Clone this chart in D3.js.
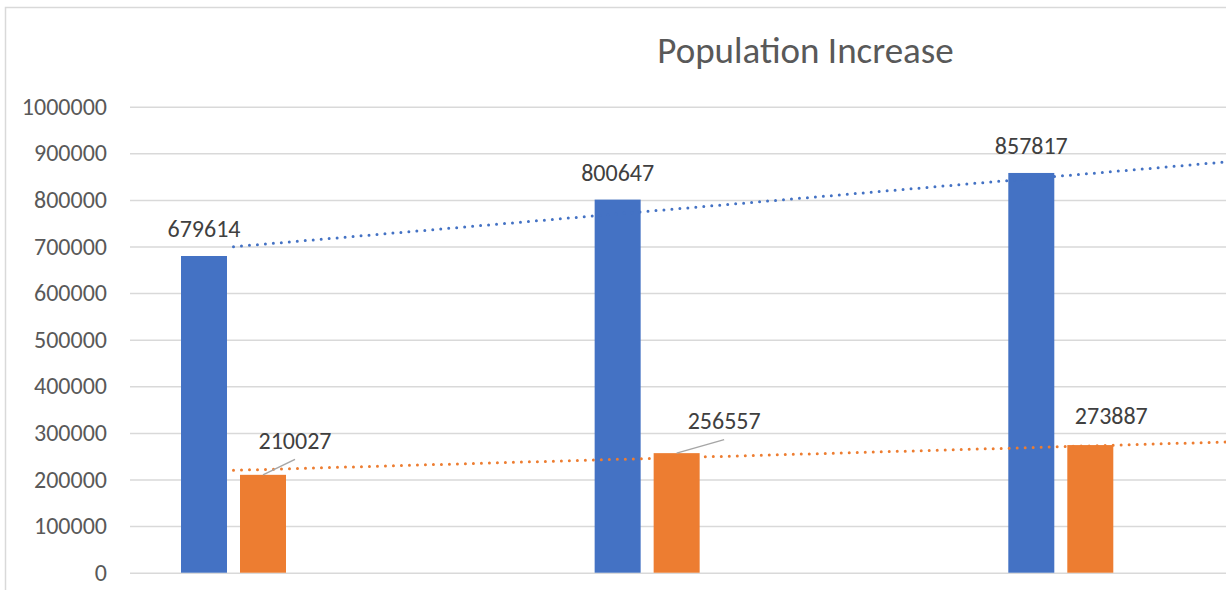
<!DOCTYPE html>
<html>
<head>
<meta charset="utf-8">
<script src="https://cdn.jsdelivr.net/npm/d3@7"></script>
<style>
  html, body { margin: 0; padding: 0; background: #fff; }
  svg { display: block; }
  text { font-family: "Carlito", "Calibri", "Open Sans", sans-serif; }
</style>
</head>
<body>
<svg id="chart" width="1226" height="590"></svg>
<script>
// ---- data ----
const categories = [1, 2, 3];
const seriesNames = ["Series A", "Series B"];
const blueValues = [679614, 800647, 857817];
const orangeValues = [210027, 256557, 273887];
const yTicks = [0, 100000, 200000, 300000, 400000, 500000, 600000, 700000, 800000, 900000, 1000000];
// trend lines: [category position, value]
const blueTrend = [[1, 699500], [3.45, 885400]];
const orangeTrend = [[1, 219700], [3.45, 281800]];
const title = "Population Increase";

// ---- layout ----
const W = 1226, H = 590;
const colors = { blue: "#4472C4", orange: "#ED7D31" };
const fontSize = 24;
const svg = d3.select("#chart");

// frame
svg.append("rect").attr("x", 5.5).attr("y", 7.5).attr("width", W + 20).attr("height", H + 20)
  .attr("fill", "none").attr("stroke", "#D9D9D9").attr("stroke-width", 1.5);

const y = d3.scaleLinear().domain([0, 1000000]).range([572.7, 106.7]);
const x = d3.scaleLinear().domain([1, 3]).range([233.5, 1060.8]);
const x1 = d3.scaleBand().domain(seriesNames).range([-52.5, 52.5]).paddingInner(0.2203);

// title
svg.append("text").attr("x", 805.5).attr("y", 62.5).attr("text-anchor", "middle")
  .attr("font-size", 37).attr("fill", "#595959").text(title);

// axis + gridlines
const axisG = svg.append("g").attr("transform", "translate(130,0)")
  .call(d3.axisLeft(y).tickValues(yTicks).tickFormat(d3.format("d"))
    .tickSize(-(W - 130 + 40)).tickPadding(23));
axisG.select(".domain").remove();
axisG.selectAll(".tick line").attr("stroke", "#D9D9D9").attr("stroke-width", 1.5);
axisG.selectAll(".tick text").attr("fill", "#595959").attr("font-size", fontSize)
  .attr("font-family", "Carlito, Calibri, 'Open Sans', sans-serif");

// bars
const series = [
  { name: seriesNames[0], values: blueValues, color: colors.blue },
  { name: seriesNames[1], values: orangeValues, color: colors.orange }
];
series.forEach(s => {
  svg.append("g").selectAll("rect").data(s.values).enter().append("rect")
    .attr("x", (d, i) => x(categories[i]) + x1(s.name))
    .attr("width", x1.bandwidth())
    .attr("y", d => y(d))
    .attr("height", d => y(0) - y(d))
    .attr("fill", s.color);
});

// trend lines (dotted)
const line = d3.line().x(d => x(d[0])).y(d => y(d[1]));
[[blueTrend, colors.blue], [orangeTrend, colors.orange]].forEach(([t, c]) => {
  svg.append("path").attr("d", line(t)).attr("fill", "none").attr("stroke", c)
    .attr("stroke-width", 3).attr("stroke-dasharray", "0 8").attr("stroke-linecap", "round");
});

// data labels
const labelColor = "#404040";
blueValues.forEach((v, i) => {
  const cx = x(categories[i]) + x1(seriesNames[0]) + x1.bandwidth() / 2;
  svg.append("text").attr("x", cx).attr("y", y(v) - 19).attr("text-anchor", "middle")
    .attr("font-size", fontSize).attr("fill", labelColor).text(d3.format("d")(v));
});
const orangeLabelOffsets = [[32, -26, true], [47.5, -24, true], [21, -20.7, false]];
orangeValues.forEach((v, i) => {
  const cx = x(categories[i]) + x1(seriesNames[1]) + x1.bandwidth() / 2;
  const [dx, dy, leader] = orangeLabelOffsets[i];
  const lx = cx + dx, ly = y(v) + dy;
  if (leader) {
    svg.append("line").attr("x1", cx).attr("y1", y(v)).attr("x2", lx).attr("y2", ly + 10.5)
      .attr("stroke", "#A6A6A6").attr("stroke-width", 1.5);
  }
  svg.append("text").attr("x", lx).attr("y", ly).attr("text-anchor", "middle")
    .attr("font-size", fontSize).attr("fill", labelColor).text(d3.format("d")(v));
});
</script>
</body>
</html>
